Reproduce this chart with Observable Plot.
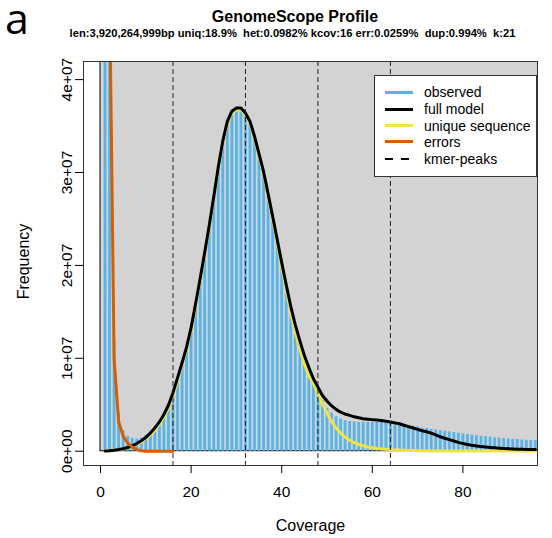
<!DOCTYPE html>
<html><head><meta charset="utf-8">
<script src="https://cdn.jsdelivr.net/npm/d3@7"></script>
<script src="https://cdn.jsdelivr.net/npm/@observablehq/plot@0.6"></script>
<style>
@font-face{font-family:"TagFont";src:local("Open Sans Regular"),local("OpenSans-Regular"),local("Open Sans");ascent-override:74%;descent-override:8%;line-gap-override:0%;}
body{margin:0;background:#fff;font-family:"Liberation Sans",Arial,sans-serif;color:#000;}
#wrap{position:relative;width:552px;height:538px;overflow:hidden;}
#head{position:relative;height:50px;}
.abs{position:absolute;white-space:pre;line-height:1;}
#legend{position:absolute;left:374px;top:75px;width:161px;height:100px;border:1px solid #333;background:#fff;}
.row{position:absolute;left:0;height:16px;display:flex;align-items:center;font-size:14px;}
.sw{position:absolute;left:10px;width:28px;height:3px;top:6.5px;}
.lt{position:absolute;left:49px;top:0;line-height:16px;white-space:nowrap;}
</style></head>
<body><div id="wrap">
<div id="head">
 <div class="abs" style="left:5px;top:1.5px;font-family:'TagFont','Open Sans';font-size:43px;line-height:normal;">a</div>
 <div class="abs" style="left:0;width:590px;text-align:center;top:8.5px;font-weight:bold;font-size:16px;">GenomeScope Profile</div>
 <div class="abs" id="sub" style="left:0;width:585px;text-align:center;top:28px;font-weight:bold;font-size:11.2px;"></div>
</div>
<div id="chart"></div>
<div id="legend"></div>
</div>
<script>
// ---- data (frequencies in units of 1e6 k-mers) ----
const coverage = [1,2,3,4,5,6,7,8,9,10,11,12,13,14,15,16,17,18,19,20,21,22,23,24,25,26,27,28,29,30,31,32,33,34,35,36,37,38,39,40,41,42,43,44,45,46,47,48,49,50,51,52,53,54,55,56,57,58,59,60,61,62,63,64,65,66,67,68,69,70,71,72,73,74,75,76,77,78,79,80,81,82,83,84,85,86,87,88,89,90,91,92,93,94,95,96];
const observed = [250,60,12,4.2,2.2,1.6,1.4,1.3,1.4,1.7,2.1,2.6,3.3,4.1,5.1,6.4,7.9,9.5,11.2,13.3,15.8,18.5,21.3,24.2,27.3,30.5,33.3,35.4,36.5,36.8,36.8,36.3,35.4,33.7,31.8,29.8,27.4,25.0,22.5,20.0,17.6,15.3,13.3,11.5,9.9,8.6,7.4,6.3,5.4,4.6,4.1,3.7,3.45,3.3,3.2,3.15,3.1,3.1,3.1,3.1,3.1,3.1,3.05,3.05,3.0,2.95,2.85,2.78,2.7,2.6,2.5,2.45,2.35,2.28,2.2,2.15,2.08,2.0,1.93,1.87,1.8,1.73,1.66,1.6,1.55,1.5,1.44,1.4,1.36,1.32,1.28,1.25,1.21,1.18,1.15,1.13];
const fullModel = [0.02,0.05,0.1,0.18,0.28,0.4,0.58,0.82,1.12,1.48,1.95,2.5,3.15,3.95,4.95,6.3,7.9,9.5,11.2,13.3,15.9,18.6,21.4,24.3,27.4,30.6,33.4,35.5,36.6,36.95,36.95,36.4,35.5,33.9,32.0,30.1,27.7,25.3,22.8,20.3,17.9,15.6,13.6,11.9,10.3,9.0,7.8,6.9,6.0,5.4,4.9,4.5,4.2,4.0,3.85,3.7,3.6,3.5,3.45,3.4,3.35,3.3,3.22,3.15,3.05,2.95,2.8,2.65,2.5,2.35,2.2,2.1,1.95,1.75,1.55,1.4,1.25,1.1,0.95,0.82,0.72,0.63,0.56,0.5,0.45,0.4,0.36,0.32,0.29,0.26,0.24,0.22,0.2,0.19,0.18,0.17];
const uniqueSeq = [0.02,0.05,0.09,0.16,0.25,0.36,0.52,0.73,1.0,1.33,1.75,2.25,2.88,3.65,4.65,5.95,7.6,9.25,11.0,13.1,15.7,18.4,21.2,24.1,27.2,30.4,33.2,35.3,36.4,36.75,36.75,36.2,35.3,33.7,31.8,29.9,27.4,25.0,22.4,19.8,17.3,14.9,12.8,11.0,9.4,8.1,7.3,6.2,5.1,4.1,3.2,2.5,1.95,1.5,1.18,0.93,0.74,0.58,0.46,0.37,0.3,0.25,0.2,0.17,0.14,0.12,0.1,0.085,0.07,0.06,0.05,0.04,0.035,0.03,0.025,0.02,0.017,0.014,0.012,0.01,0.01,0.01,0.01,0.01,0.01,0.01,0.01,0.01,0.01,0.01,0.01,0.01,0.01,0.01,0.01,0.01];
const errorCov = [1,2,3,4,5,6,7,8,9,10,11,12,13,14,15,16];
const errors = [300,50,10,3.2,1.6,0.9,0.45,0.2,0.05,0,0,0,0,0,0,0];
const kmerPeaks = [16,32,48,64];
const xTicks = [0,20,40,60,80];
const yTicks = [0,1e7,2e7,3e7,4e7];
const yTickLabels = ["0e+00","1e+07","2e+07","3e+07","4e+07"];
const titleText = "GenomeScope Profile";
const subtitleText = "len:3,920,264,999bp uniq:18.9%  het:0.0982% kcov:16 err:0.0259%  dup:0.994%  k:21";
const legendItems = [
  {label:"observed", color:"#56B4E9", dash:false},
  {label:"full model", color:"#000000", dash:false},
  {label:"unique sequence", color:"#F0E442", dash:false},
  {label:"errors", color:"#D55E00", dash:false},
  {label:"kmer-peaks", color:"#000000", dash:true}
];

document.getElementById("sub").textContent = subtitleText;

const M = 1e6;
const hist = coverage.map((c,i)=>({c, obs: observed[i]*M, model: fullModel[i]*M, uniq: uniqueSeq[i]*M}));
const err = errorCov.map((c,i)=>({c, v: errors[i]*M}));
const bg = [{x1:0, x2:d3.max(coverage)*1.1, y1:0, y2:d3.max(observed)*M*1.1}];

const chart = Plot.plot({
  width: 552, height: 488,
  marginLeft: 83, marginRight: 15, marginTop: 11, marginBottom: 73,
  x: {domain: [-3.753, 96.47]},
  y: {domain: [-1.539e6, 4.195e7]},
  style: {fontFamily: "Liberation Sans, Arial, sans-serif", fontSize: "15.5px", color: "#000", background: "transparent"},
  marks: [
    Plot.rect(bg, {x1:"x1", x2:"x2", y1:"y1", y2:"y2", fill:"#D3D3D3", stroke:"#000", strokeWidth:1, clip:true}),
    Plot.ruleX(hist, {x:"c", y1:0, y2:"obs", stroke:"#56B4E9", strokeWidth:2.8, clip:true}),
    Plot.line(hist, {x:"c", y:"uniq", stroke:"#F0E442", strokeWidth:3, clip:true}),
    Plot.line(hist, {x:"c", y:"model", stroke:"#000", strokeWidth:3, clip:true}),
    Plot.line(err, {x:"c", y:"v", stroke:"#D55E00", strokeWidth:3, clip:true}),
    Plot.ruleX(kmerPeaks, {x: d=>d, stroke:"#222", strokeWidth:1, strokeDasharray:"5,3"}),
    Plot.frame({stroke:"#333"}),
    Plot.axisX({ticks:xTicks, tickSize:8, tickPadding:12, label:null, fontSize:15.5}),
    Plot.axisY({ticks:yTicks, tickSize:8, tickFormat:()=>"", label:null}),
    Plot.text(yTicks, {y:d=>d, text:(d,i)=>yTickLabels[i], frameAnchor:"left", rotate:-90, dx:-16.3, lineAnchor:"middle", textAnchor:"middle", fontSize:15.5}),
    Plot.text(["Coverage"], {text:d=>d, frameAnchor:"bottom", dy:65, lineAnchor:"bottom", fontSize:16}),
    Plot.text(["Frequency"], {text:d=>d, frameAnchor:"left", dx:-60, dy:-2, rotate:-90, lineAnchor:"middle", textAnchor:"middle", fontSize:16})
  ]
});
document.getElementById("chart").appendChild(chart);

// legend
const leg = document.getElementById("legend");
const centers = [16.3, 33, 49.7, 65.7, 83.3];
legendItems.forEach((it,i)=>{
  const row = document.createElement("div");
  row.className = "row";
  row.style.top = (centers[i]-8)+"px";
  row.style.width = "160px";
  const sw = document.createElement("div");
  sw.className = "sw";
  if (it.dash) {
    sw.style.height = "2px"; sw.style.top = "7px";
    sw.style.background = `linear-gradient(to right, ${it.color} 0 8px, transparent 8px 16px, ${it.color} 16px 24px, transparent 24px)`;
  } else {
    sw.style.background = it.color;
  }
  const t = document.createElement("div");
  t.className = "lt";
  t.textContent = it.label;
  row.appendChild(sw); row.appendChild(t);
  leg.appendChild(row);
});
</script>
</body></html>
